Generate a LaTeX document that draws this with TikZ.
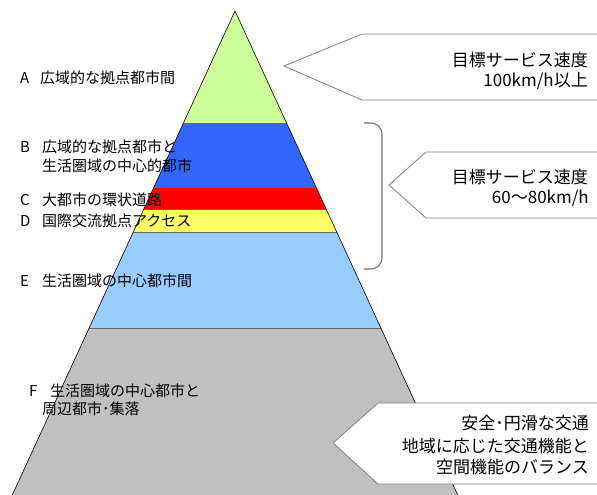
\documentclass[tikz,border=0pt]{standalone}
\usepackage{fontspec}
\setmainfont{Noto Sans CJK JP}
\definecolor{cA}{HTML}{CCFF99}
\definecolor{cB}{HTML}{3366FF}
\definecolor{cC}{HTML}{FF0000}
\definecolor{cD}{HTML}{FFFF66}
\definecolor{cE}{HTML}{99CCFF}
\definecolor{cF}{HTML}{C0C0C0}
\begin{document}
\begin{tikzpicture}[x=1pt,y=-1pt,
  lbl/.style={anchor=base west, inner sep=0pt, font=\fontsize{15}{15}\selectfont},
  rtx/.style={anchor=base east, inner sep=0pt, font=\fontsize{17}{17}\selectfont},
  tag/.style={draw=black!50, line width=0.8pt, fill=white},
  sep/.style={draw=black!60, line width=0.5pt},
  brace/.style={draw=black!55, line width=1.1pt, rounded corners=11pt}]
\useasboundingbox (0,0) rectangle (597,495);
\clip (0,0) rectangle (597,495);
\fill[white] (0,0) rectangle (597,495);
% pyramid
\coordinate (apex) at (235,11);
\coordinate (bl) at (10,500);
\coordinate (br) at (460,500);
\begin{scope}
  \clip (apex) -- (bl) -- (br) -- cycle;
  \fill[cA] (0,0) rectangle (597,123);
  \fill[cB] (0,123) rectangle (597,187);
  \fill[cC] (0,187) rectangle (597,209);
  \fill[cD] (0,209) rectangle (597,232);
  \fill[cE] (0,232) rectangle (597,328);
  \fill[cF] (0,328) rectangle (597,500);
  \draw[sep] (0,123) -- (597,123);
  \draw[sep] (0,187) -- (597,187);
  \draw[sep] (0,209) -- (597,209);
  \draw[sep] (0,232) -- (597,232);
  \draw[sep] (0,328) -- (597,328);
\end{scope}
\draw[line width=0.6pt] (apex) -- (bl) -- (br) -- cycle;
% left labels
\node[lbl] (la)  at (20,84)    {\makebox[20pt][l]{A}広域的な拠点都市間};
\node[lbl] (lb1) at (20,152.5) {\makebox[22pt][l]{B}広域的な拠点都市と};
\node[lbl] (lb2) at (42,171)   {生活圏域の中心的都市};
\node[lbl] (lc)  at (20,205)   {\makebox[22pt][l]{C}大都市の環状道路};
\node[lbl] (ld)  at (20,226)   {\makebox[22pt][l]{D}国際交流拠点アクセス};
\node[lbl] (le)  at (20,286)   {\makebox[22pt][l]{E}生活圏域の中心都市間};
\node[lbl] (lf1) at (29,396)   {\makebox[21pt][l]{F}生活圏域の中心都市と};
\node[lbl] (lf2) at (42,414)   {周辺都市･集落};
% brace
\draw[brace] (364,123) -- (382,123) -- (382,269) -- (364,269);
% tag boxes
\draw[tag] (284,66) -- (362,34) -- (620,34) -- (620,100) -- (362,100) -- cycle;
\draw[tag] (389,185) -- (426,152) -- (620,152) -- (620,218) -- (426,218) -- cycle;
\draw[tag] (333,443) -- (378,403) -- (620,403) -- (620,484) -- (378,484) -- cycle;
% right texts
\node[rtx] (t1a) at (588,66.5)  {目標サービス速度};
\node[rtx] (t1b) at (588,86.5)  {100km/h以上};
\node[rtx] (t2a) at (588,183.5) {目標サービス速度};
\node[rtx] (t2b) at (589,203.5) {60～80km/h};
\node[rtx] (t3a) at (589,429.5) {安全･円滑な交通};
\node[rtx] (t3b) at (589,452.5) {地域に応じた交通機能と};
\node[rtx] (t3c) at (589,473.5) {空間機能のバランス};
\end{tikzpicture}
\end{document}
